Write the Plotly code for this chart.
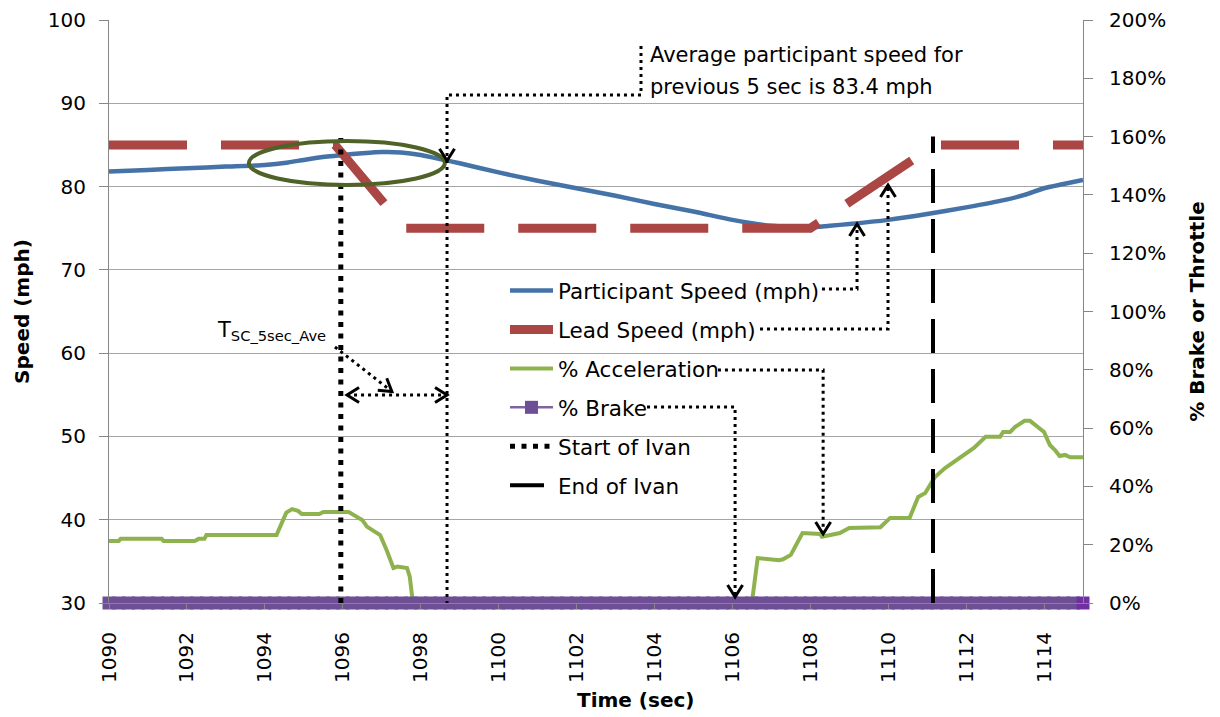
import math
import numpy as np
import plotly.graph_objects as go

# ---------------- data ----------------
participant_time = [1090, 1091, 1092, 1093, 1094, 1094.6, 1095, 1095.6, 1096, 1096.5, 1097, 1097.5,
                    1098, 1098.6, 1099, 1100, 1101, 1102, 1103, 1104, 1105, 1106, 1106.5, 1107,
                    1107.5, 1108, 1108.5, 1109, 1110, 1111, 1112, 1113, 1113.5, 1114, 1114.5, 1115]
participant_speed = [81.8, 82.0, 82.2, 82.4, 82.6, 82.9, 83.2, 83.6, 83.8, 84.0, 84.15, 84.1,
                     83.8, 83.2, 82.8, 81.7, 80.7, 79.8, 78.9, 77.9, 77.0, 76.0, 75.6, 75.3,
                     75.15, 75.1, 75.3, 75.5, 76.0, 76.7, 77.5, 78.4, 79.0, 79.8, 80.3, 80.8]

lead_time = [1090, 1095.8, 1097.6, 1108.0, 1111.2, 1115]
lead_speed = [85, 85, 75, 75, 85, 85]

accel_time = [1090.0, 1090.25, 1090.3, 1091.35, 1091.4, 1092.2, 1092.3, 1092.45, 1092.5, 1094.3,
              1094.55, 1094.7, 1094.85, 1094.95, 1095.4, 1095.5, 1096.15, 1096.37, 1096.5, 1096.62,
              1096.96, 1097.13, 1097.3, 1097.4, 1097.65, 1097.72, 1097.8, 1106.5, 1106.65, 1107.2,
              1107.3, 1107.5, 1107.8, 1108.25, 1108.3, 1108.76, 1109.0, 1109.8, 1110.05, 1110.55,
              1110.77, 1110.95, 1111.2, 1111.46, 1111.84, 1112.2, 1112.5, 1112.87, 1112.95, 1113.13,
              1113.26, 1113.5, 1113.64, 1113.9, 1114.0, 1114.15, 1114.28, 1114.4, 1114.54, 1114.67,
              1115.0]
accel_pct = [0.213, 0.213, 0.22, 0.22, 0.213, 0.213, 0.22, 0.22, 0.233, 0.233,
             0.31, 0.322, 0.316, 0.305, 0.305, 0.312, 0.312, 0.296, 0.285, 0.262,
             0.233, 0.18, 0.12, 0.125, 0.12, 0.09, 0.0, 0.0, 0.154, 0.147,
             0.15, 0.165, 0.24, 0.237, 0.227, 0.24, 0.257, 0.26, 0.292, 0.292,
             0.364, 0.377, 0.432, 0.463, 0.497, 0.532, 0.57, 0.57, 0.587, 0.587,
             0.604, 0.625, 0.625, 0.60, 0.587, 0.542, 0.525, 0.504, 0.508, 0.50,
             0.50]

brake_time = list(np.round(np.arange(1090, 1115.001, 0.25), 2))
brake_pct = [0.0 for _ in brake_time]

ivan_start_time = [1095.95, 1095.95]
ivan_end_time = [1111.15, 1111.15]
ivan_pct = [0.0, 1.6]

x_ticks = list(range(1090, 1116, 2))
speed_ticks = list(range(30, 101, 10))
pct_ticks = [0, 0.2, 0.4, 0.6, 0.8, 1.0, 1.2, 1.4, 1.6, 1.8, 2.0]

# ---------------- layout constants ----------------
W, H = 1220, 717
OFF = 8                      # default page margin of the html body
PL, PR, PT, PB = 109, 1083, 20, 603   # wanted plot box on the page
ML, MT = PL - OFF, PT - OFF
MR, MB = (W + OFF) - PR, (H + OFF) - PB
X_MIN, X_MAX = 1090, 1115
Y_MIN, Y_MAX = 30, 100
PW, PH = PR - PL, PB - PT
SX, SY = PW / (X_MAX - X_MIN), PH / (Y_MAX - Y_MIN)
FONT = "DejaVu Sans"
GRAY = "#868686"


def chevron(t, v, dx, dy, length=12, half=7.5):
    n = math.hypot(dx, dy)
    ux, uy = dx / n, dy / n
    bx, by = -ux * length, -uy * length
    px, py = -uy * half, ux * half
    a = (bx + px, by + py)
    b = (bx - px, by - py)
    path = (f"M {t + a[0] / SX},{v - a[1] / SY} L {t},{v} "
            f"L {t + b[0] / SX},{v - b[1] / SY}")
    return dict(type="path", path=path, xref="x", yref="y",
                line=dict(color="black", width=3))


def dotted(points):
    path = "M " + " L ".join(f"{t},{v}" for t, v in points)
    return dict(type="path", path=path, xref="x", yref="y",
                line=dict(color="black", width=3, dash="3px,4px"))


fig = go.Figure()
fig.add_trace(go.Scatter(x=participant_time, y=participant_speed, mode="lines",
                         name="Participant Speed (mph)", legendgroup="a",
                         line=dict(color="#4572A7", width=4.5, shape="spline", smoothing=0.6)))
fig.add_trace(go.Scatter(x=lead_time, y=lead_speed, mode="lines",
                         name="Lead Speed (mph)", legendgroup="b",
                         line=dict(color="#AA4643", width=9, dash="78px,34px")))
fig.add_trace(go.Scatter(x=accel_time, y=accel_pct, mode="lines", yaxis="y2",
                         name="% Acceleration", legendgroup="c",
                         line=dict(color="#8EB34E", width=4)))
brake_colors = ["#6E4F96"] * (len(brake_time) - 1) + ["#7030A0"]
fig.add_trace(go.Scatter(x=brake_time, y=brake_pct, mode="lines+markers", yaxis="y2",
                         name="% Brake", legendgroup="d", cliponaxis=False,
                         line=dict(color="#8064A2", width=2.5),
                         marker=dict(symbol="square", size=13, color=brake_colors,
                                     line=dict(width=0))))
fig.add_trace(go.Scatter(x=ivan_start_time, y=ivan_pct, mode="lines", yaxis="y2",
                         name="Start of Ivan", legendgroup="e", cliponaxis=False,
                         line=dict(color="black", width=5, dash="5px,6.5px")))
fig.add_trace(go.Scatter(x=ivan_end_time, y=ivan_pct, mode="lines", yaxis="y2",
                         name="End of Ivan", legendgroup="f", cliponaxis=False,
                         line=dict(color="black", width=4, dash="34px,16px")))

shapes = []
# ellipse around the 5-second average region
shapes.append(dict(type="circle", xref="x", yref="y", x0=1093.59, x1=1098.62, y0=80.19, y1=85.47,
                   line=dict(color="#4F6228", width=4)))
# top callout
shapes.append(dotted([(1103.655, 96.88), (1103.655, 91.0), (1098.676, 91.0), (1098.676, 30.0)]))
shapes.append(chevron(1098.676, 83.1, 0, 1))
# T_SC leader and double arrow
shapes.append(dotted([(1095.80, 60.74), (1097.26, 55.4)]))
shapes.append(chevron(1097.26, 55.4, 60, 45))
shapes.append(dotted([(1096.11, 54.98), (1098.676, 54.98)]))
shapes.append(chevron(1096.11, 54.98, -1, 0))
shapes.append(chevron(1098.676, 54.98, 1, 0))
# legend leaders
shapes.append(dotted([(1108.30, 67.70), (1109.20, 67.70), (1109.20, 75.5)]))
shapes.append(chevron(1109.20, 75.5, 0, -1))
shapes.append(dotted([(1106.71, 62.90), (1109.995, 62.90), (1109.995, 80.19)]))
shapes.append(chevron(1109.995, 80.19, 0, -1))
shapes.append(dotted([(1105.63, 57.98), (1108.33, 57.98), (1108.33, 38.29)]))
shapes.append(chevron(1108.33, 38.29, 0, 1))
shapes.append(dotted([(1103.81, 53.53), (1106.07, 53.53), (1106.07, 30.72)]))
shapes.append(chevron(1106.07, 30.72, 0, 1))

annotations = [
    dict(x=1103.83, y=95.8, xref="x", yref="y", text="Average participant speed for",
         showarrow=False, xanchor="left", yanchor="middle",
         font=dict(family=FONT, size=21, color="black")),
    dict(x=1103.83, y=91.95, xref="x", yref="y", text="previous 5 sec is 83.4 mph",
         showarrow=False, xanchor="left", yanchor="middle",
         font=dict(family=FONT, size=21, color="black")),
    dict(x=1092.72, y=62.6, xref="x", yref="y", text="T<sub>SC_5sec_Ave</sub>",
         showarrow=False, xanchor="left", yanchor="middle",
         font=dict(family=FONT, size=21, color="black")),
    dict(x=(635 - PL) / PW, y=1 - (700 - PT) / PH, xref="paper", yref="paper",
         text="<b>Time (sec)</b>", showarrow=False, xanchor="center", yanchor="middle",
         font=dict(family=FONT, size=20, color="black")),
]

fig.update_layout(
    width=W, height=H,
    margin=dict(l=ML, r=MR, t=MT, b=MB),
    paper_bgcolor="white", plot_bgcolor="white",
    font=dict(family=FONT, size=20, color="black"),
    showlegend=True,
    legend=dict(x=(505 - PL) / PW, y=1 - (270 - PT) / PH, xanchor="left", yanchor="top",
                bgcolor="rgba(0,0,0,0)", font=dict(family=FONT, size=21.5, color="black"),
                tracegroupgap=8, itemwidth=43),
    xaxis=dict(range=[X_MIN, X_MAX], tickvals=x_ticks, tickangle=-90, showgrid=False,
               zeroline=False, showline=True, linecolor=GRAY, ticks="outside", ticklen=5,
               tickcolor=GRAY, tickfont=dict(family=FONT, size=20, color="black"),
               ticklabelstandoff=15, automargin=False),
    yaxis=dict(range=[Y_MIN, Y_MAX], tickvals=speed_ticks, showgrid=True, gridcolor="#A6A6A6",
               gridwidth=1, zeroline=False, showline=True, linecolor=GRAY, ticks="outside",
               ticklen=9, tickcolor=GRAY, tickfont=dict(family=FONT, size=20, color="black"),
               ticklabelstandoff=9, automargin=False,
               title=dict(text="<b>Speed (mph)</b>", font=dict(family=FONT, size=20),
                          standoff=12)),
    yaxis2=dict(range=[0, 2], tickvals=pct_ticks, tickformat=".0%", overlaying="y",
                side="right", showgrid=False, zeroline=False, showline=True, linecolor=GRAY,
                ticks="outside", ticklen=9, tickcolor=GRAY, automargin=False,
                tickfont=dict(family=FONT, size=20, color="black"), ticklabelstandoff=12,
                title=dict(text="<b>% Brake or Throttle</b>", font=dict(family=FONT, size=20),
                           standoff=24)),
    shapes=shapes,
    annotations=annotations,
)

fig.write_html("out.html")
